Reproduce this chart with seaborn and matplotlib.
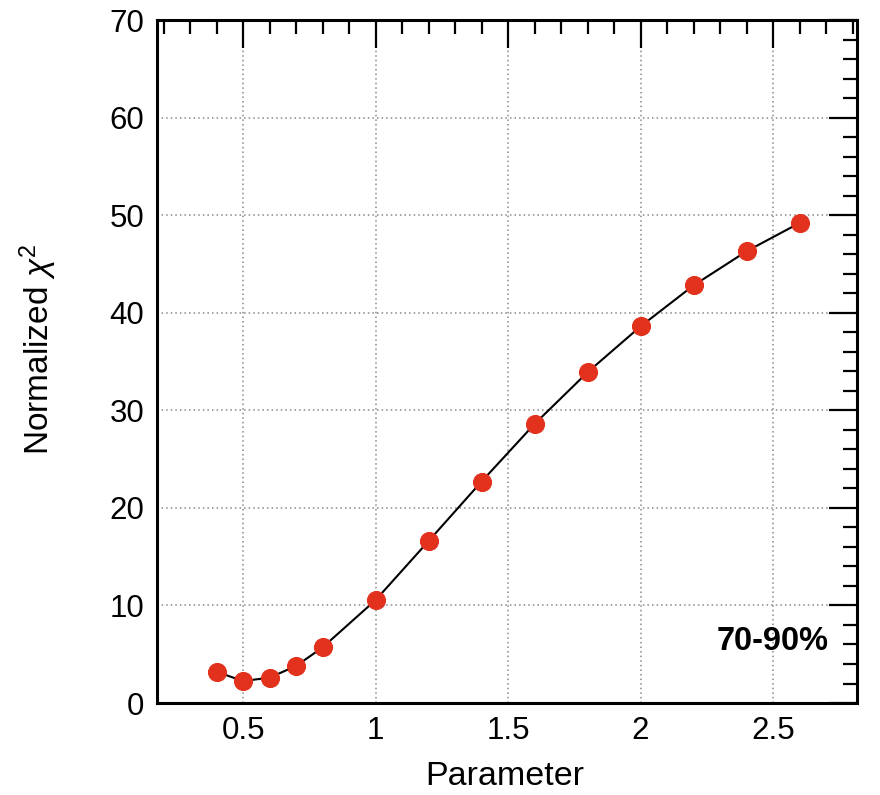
import matplotlib
matplotlib.use("Agg")
import matplotlib.pyplot as plt
from matplotlib.ticker import MultipleLocator
import seaborn as sns
import pandas as pd

# Scan of the parameter and the resulting normalized chi-square
param = [0.4, 0.5, 0.6, 0.7, 0.8, 1.0, 1.2, 1.4, 1.6, 1.8, 2.0, 2.2, 2.4, 2.6]
chi2 = [3.2, 2.25, 2.6, 3.8, 5.7, 10.55, 16.6, 22.7, 28.6, 33.9, 38.6, 42.8, 46.3, 49.2]
centrality = "70-90%"

df = pd.DataFrame({"Parameter": param, "chi2": chi2})

sns.set_style("white")
plt.rcParams["font.family"] = ["Liberation Sans", "DejaVu Sans"]
plt.rcParams["mathtext.fontset"] = "custom"
plt.rcParams["mathtext.it"] = "Liberation Sans:italic"
plt.rcParams["mathtext.rm"] = "Liberation Sans"
plt.rcParams["text.color"] = "black"
plt.rcParams["axes.labelcolor"] = "black"
plt.rcParams["xtick.color"] = "black"
plt.rcParams["ytick.color"] = "black"

fig = plt.figure(figsize=(8.8, 7.95), dpi=100)
ax = fig.add_axes([0.1784, 0.1157, 0.7955, 0.8591])

sns.lineplot(data=df, x="Parameter", y="chi2", ax=ax, color="black",
             linewidth=1.5, marker="o", markersize=13,
             markerfacecolor="#e2311d", markeredgecolor="#e2311d", zorder=3)

ax.set_xlim(0.175, 2.817)
ax.set_ylim(0, 70)
ax.xaxis.set_major_locator(MultipleLocator(0.5))
ax.xaxis.set_minor_locator(MultipleLocator(0.1))
ax.yaxis.set_major_locator(MultipleLocator(10))
ax.yaxis.set_minor_locator(MultipleLocator(2))
ax.xaxis.set_major_formatter(plt.FuncFormatter(lambda v, p: f"{v:g}"))

ax.tick_params(which="both", direction="in", top=True, right=True,
               width=1.6, color="black", labelsize=22.5, pad=9)
ax.tick_params(which="major", length=20)
ax.tick_params(which="minor", length=10)

ax.grid(True, which="major", linestyle=(0, (1, 2)), color="#888888", linewidth=1.1)
for s in ax.spines.values():
    s.set_linewidth(2.2)
    s.set_color("black")

ax.set_xlabel("Parameter", fontsize=24.5, ha="center", va="center")
ax.xaxis.set_label_coords(0.497, -0.107)
ax.set_ylabel(r"Normalized $\chi^2$", fontsize=24, ha="center", va="center")
ax.yaxis.set_label_coords(-0.17, 0.518)

ax.text(2.71, 6.3, centrality, fontsize=23.5, fontweight="bold",
        ha="right", va="center")

fig.savefig("out.png", dpi=100)
